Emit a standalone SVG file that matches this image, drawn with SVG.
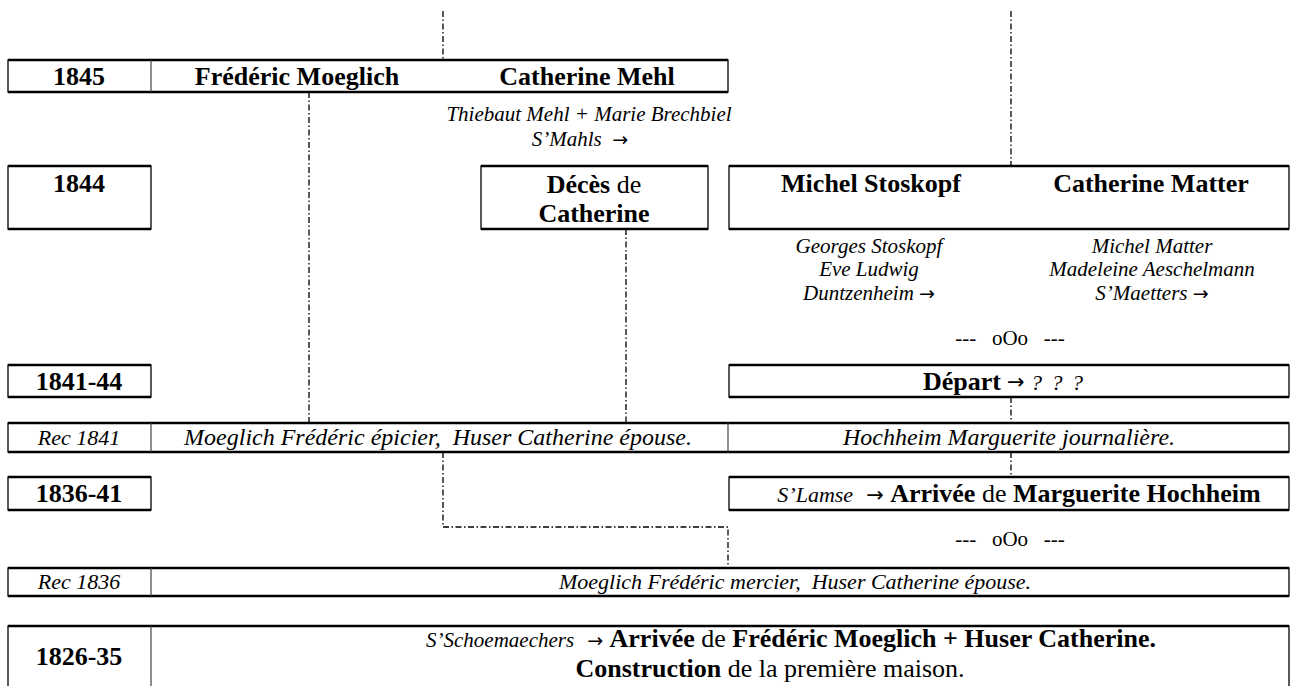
<svg xmlns="http://www.w3.org/2000/svg" width="1295" height="686" viewBox="0 0 1295 686">
<style>
.box{fill:#fff;stroke:#000;stroke-width:1.3}
.hb{stroke:#000;stroke-width:2.6;fill:none}
.dv{stroke:#444;stroke-width:1.2}
text{font-family:"Liberation Serif","Times New Roman",serif;fill:#000}
.b{font-weight:bold;font-size:26px}
.i{font-style:italic;font-size:22px}
.i24{font-style:italic;font-size:24px}
.n{font-style:italic;font-size:21px}
.r{font-size:21px}
.c{text-anchor:middle}
.ib{font-style:italic;font-weight:normal}
.rb{font-weight:normal;font-style:normal}
.ar{font-family:"DejaVu Sans",sans-serif;font-weight:normal;font-style:normal;font-size:21px}
.as{font-family:"DejaVu Sans",sans-serif;font-weight:normal;font-style:normal;font-size:19px}
.con{stroke:#000;stroke-width:1.3;fill:none;stroke-dasharray:6 2.5 1.5 2.5}
</style>
<rect width="1295" height="686" fill="#fff"/>
<g id="connectors">
<path class="con" d="M443 11V60"/>
<path class="con" d="M1011 11V166"/>
<path class="con" d="M309 92V423"/>
<path class="con" d="M626 229V423"/>
<path class="con" d="M1011 397V423"/>
<path class="con" d="M1011 452V477"/>
<path class="con" d="M443 452V527H728V568"/>
</g>
<g id="row1845">
<rect class="box" x="8" y="60" width="720" height="32"/>
<path class="hb" d="M8 60H728M8 92H728"/>
<line class="dv" x1="151" y1="60" x2="151" y2="92"/>
<text class="b c" x="79" y="85">1845</text>
<text class="b c" x="297" y="85">Frédéric Moeglich</text>
<text class="b c" x="587" y="85">Catherine Mehl</text>
</g>
<g id="mehl-parents">
<text class="n c" x="589" y="121">Thiebaut Mehl + Marie Brechbiel</text>
<text class="n c" x="580" y="146" xml:space="preserve">S’Mahls  <tspan class="as">→</tspan></text>
</g>
<g id="year1844">
<rect class="box" x="8" y="166" width="143" height="63"/>
<path class="hb" d="M8 166H151M8 229H151"/>
<text class="b c" x="79" y="192">1844</text>
</g>
<g id="deces">
<rect class="box" x="481" y="166" width="227" height="63"/>
<path class="hb" d="M481 166H708M481 229H708"/>
<text class="b c" x="594" y="193">Décès<tspan class="rb"> de</tspan></text>
<text class="b c" x="594" y="222">Catherine</text>
</g>
<g id="stoskopf-matter">
<rect class="box" x="729" y="166" width="560" height="63"/>
<path class="hb" d="M729 166H1289M729 229H1289"/>
<text class="b c" x="871" y="192">Michel Stoskopf</text>
<text class="b c" x="1151" y="192">Catherine Matter</text>
</g>
<g id="parents">
<text class="n c" x="869" y="253">Georges Stoskopf</text>
<text class="n c" x="869" y="276">Eve Ludwig</text>
<text class="n c" x="869" y="300" xml:space="preserve">Duntzenheim <tspan class="as">→</tspan></text>
<text class="n c" x="1152" y="253">Michel Matter</text>
<text class="n c" x="1152" y="276">Madeleine Aeschelmann</text>
<text class="n c" x="1152" y="300" xml:space="preserve">S’Maetters <tspan class="as">→</tspan></text>
</g>
<g id="sep1">
<text class="r c" x="1010" y="345" xml:space="preserve">---   oOo   ---</text>
</g>
<g id="year1841-44">
<rect class="box" x="8" y="365" width="143" height="32"/>
<path class="hb" d="M8 365H151M8 397H151"/>
<text class="b c" x="79" y="390">1841-44</text>
</g>
<g id="depart">
<rect class="box" x="729" y="365" width="560" height="32"/>
<path class="hb" d="M729 365H1289M729 397H1289"/>
<text class="b" x="923" y="390">Départ</text>
<text class="ar" x="1007" y="389">→</text>
<text class="i" x="1031" y="390" textLength="52" xml:space="preserve">? ? ?</text>
</g>
<g id="rec1841">
<rect class="box" x="8" y="423" width="1281" height="29"/>
<path class="hb" d="M8 423H1289M8 452H1289"/>
<line class="dv" x1="151" y1="423" x2="151" y2="452"/>
<line class="dv" x1="728" y1="423" x2="728" y2="452"/>
<text class="i c" x="79" y="445" font-size="23">Rec 1841</text>
<text class="i24 c" x="438" y="445" xml:space="preserve">Moeglich Frédéric épicier,  Huser Catherine épouse.</text>
<text class="i24 c" x="1009" y="445">Hochheim Marguerite journalière.</text>
</g>
<g id="year1836-41">
<rect class="box" x="8" y="477" width="143" height="33"/>
<path class="hb" d="M8 477H151M8 510H151"/>
<text class="b c" x="79" y="502">1836-41</text>
</g>
<g id="hochheim">
<rect class="box" x="729" y="477" width="560" height="33"/>
<path class="hb" d="M729 477H1289M729 510H1289"/>
<text class="b c" x="1019" y="502" xml:space="preserve"><tspan class="ib" font-size="22">S’Lamse</tspan><tspan class="rb">  </tspan><tspan class="ar">→</tspan><tspan class="rb"> </tspan>Arrivée<tspan class="rb"> de </tspan>Marguerite Hochheim</text>
</g>
<g id="sep2">
<text class="r c" x="1010" y="546" xml:space="preserve">---   oOo   ---</text>
</g>
<g id="rec1836">
<rect class="box" x="8" y="568" width="1281" height="28"/>
<path class="hb" d="M8 568H1289M8 596H1289"/>
<line class="dv" x1="151" y1="568" x2="151" y2="596"/>
<text class="i c" x="79" y="589">Rec 1836</text>
<text class="i c" x="795" y="589" xml:space="preserve">Moeglich Frédéric mercier,  Huser Catherine épouse.</text>
</g>
<g id="year1826-35">
<rect class="box" x="8" y="626" width="1281" height="80"/>
<path class="hb" d="M8 626H1289"/>
<line class="dv" x1="151" y1="626" x2="151" y2="686"/>
<text class="b c" x="79" y="665">1826-35</text>
<text class="b c" x="791" y="647" font-size="24" xml:space="preserve"><tspan class="ib" font-size="21">S’Schoemaechers</tspan><tspan class="rb">  </tspan><tspan class="as">→</tspan><tspan class="rb"> </tspan>Arrivée<tspan class="rb"> de </tspan>Frédéric Moeglich + Huser Catherine.</text>
<text class="b c" x="770" y="677">Construction<tspan class="rb"> de la première maison.</tspan></text>
</g>
</svg>
